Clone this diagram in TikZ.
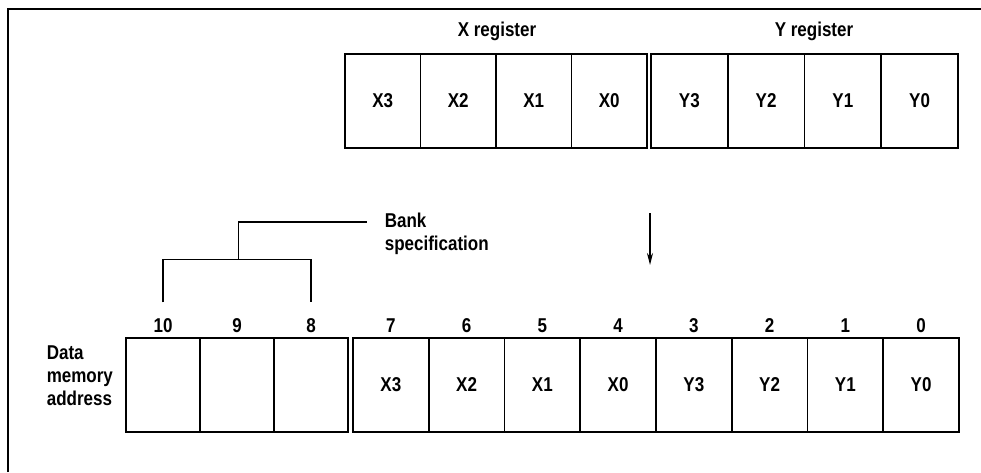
\documentclass[tikz,border=0pt]{standalone}
\usepackage{fontspec}
\setmainfont{Liberation Sans}[FakeStretch=0.85]
\usetikzlibrary{positioning,arrows.meta}
\tikzset{regfig/.style={x=1pt,y=-1pt,line width=1.6pt,font=\fontsize{20}{23}\selectfont\bfseries}}
\tikzset{cell/.style={draw,rectangle,inner sep=0pt,outer sep=0pt,minimum height=94pt},
         bitnum/.style={inner sep=1pt,text depth=0pt},
         caption/.style={align=left,inner sep=0pt,font=\fontsize{20}{23}\selectfont\bfseries}}

\begin{document}
\begin{tikzpicture}[regfig]
    \useasboundingbox (0,0) rectangle (981,472);
    \draw[line width=2pt] (8,472) -- (8,9) -- (981,9);
    % registers
    \foreach \t [count=\i from 0] in {X3,X2,X1,X0}
      \node[cell,minimum width=75.5pt] (x\i) at ({345+75.5*\i+37.75},101) {\t};
    \foreach \t [count=\i from 0] in {Y3,Y2,Y1,Y0}
      \node[cell,minimum width=76.75pt] (y\i) at ({651+76.75*\i+38.375},101) {\t};
    \node[anchor=base] (xreg) at (497,36) {X register};
    \node[anchor=base] (yreg) at (814,36) {Y register};
    % data memory address
    \foreach \i in {0,1,2}
      \node[cell,minimum width=74pt] (b\i) at ({126+74*\i+37},385) {};
    \foreach \t [count=\i from 0] in {X3,X2,X1,X0,Y3,Y2,Y1,Y0}
      \node[cell,minimum width=75.75pt] (d\i) at ({353+75.75*\i+37.875},385) {\t};
    \foreach \i/\n in {0/10,1/9,2/8}
      \node[bitnum,above=4pt of b\i] (n\n) {\n};
    \foreach \i in {0,...,7}{
      \pgfmathtruncatemacro\n{7-\i}
      \node[bitnum,above=4pt of d\i] (n\n) {\n};
    }
    \node[caption,anchor=base west] (dma) at (46,405) {Data\\memory\\address};
    % bank specification
    \node[caption,anchor=base west] (bank) at (384,250) {Bank\\specification};
    \coordinate (bankend) at (367,222);
    \draw ([yshift=14pt]n10.north) -- ++(0,-43) coordinate (brl) -| ([yshift=14pt]n8.north);
    \draw ([xshift=1.5pt]n9 |- brl) |- (bankend);
    % transfer arrow
    \coordinate (arrtop) at (650,213);
    \coordinate (arrbot) at (650,265);
    \draw[-{Stealth[length=12pt,width=6pt]}] (arrtop) -- (arrbot);
\end{tikzpicture}
\end{document}
